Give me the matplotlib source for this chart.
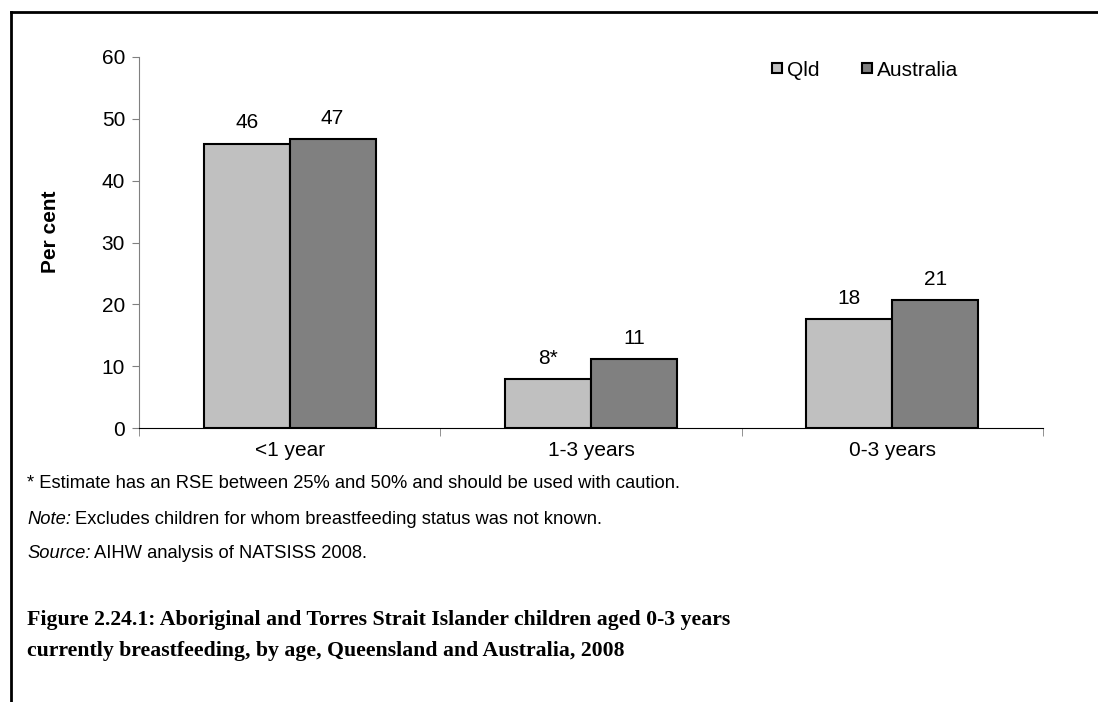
import matplotlib.pyplot as plt
from matplotlib.lines import Line2D
import numpy as np

# data
categories = ['<1 year', '1-3 years', '0-3 years']
qld = [46.0, 7.9, 17.6]
australia = [46.8, 11.2, 20.7]
qld_labels = ['46', '8*', '18']
aus_labels = ['47', '11', '21']

plt.rcParams['font.family'] = ['Liberation Sans', 'DejaVu Sans']

W, H = 1098, 702
fig = plt.figure(figsize=(W / 100, H / 100), dpi=100)
ax = fig.add_axes([139 / W, 1 - 428 / H, (1043 - 139) / W, (428 - 57) / H])

x = np.arange(len(categories))
bw = 0.285
b1 = ax.bar(x - bw / 2, qld, bw, color='#c0c0c0', edgecolor='black', linewidth=1.5)
b2 = ax.bar(x + bw / 2, australia, bw, color='#808080', edgecolor='black', linewidth=1.5)

for bars, labs in ((b1, qld_labels), (b2, aus_labels)):
    for b, lab in zip(bars, labs):
        ax.annotate(lab, (b.get_x() + b.get_width() / 2, b.get_height()),
                    xytext=(0, 8), textcoords='offset points',
                    ha='center', va='bottom', fontsize=15)

ax.set_xlim(-0.5, 2.5)
ax.set_ylim(0, 60)
ax.set_yticks(range(0, 61, 10))
ax.set_xticks(x)
ax.set_xticklabels(categories, fontsize=15)
ax.set_xticks([-0.5, 0.5, 1.5, 2.5], minor=True)
ax.tick_params(axis='x', which='major', length=0, pad=9)
ax.tick_params(axis='x', which='minor', length=6, color='#808080', direction='out')
ax.tick_params(axis='y', labelsize=15, length=5, color='#808080', pad=5)
for s in ('top', 'right'):
    ax.spines[s].set_visible(False)
ax.spines['left'].set_color('#808080')
ax.spines['bottom'].set_color('black')
ax.set_ylabel('Per cent', fontsize=15, fontweight='bold', va='center')
ax.yaxis.set_label_coords((51 - 139) / 904, (428 - 232) / 371)

handles = [Line2D([], [], marker='s', linestyle='none', markersize=7.5,
                  markerfacecolor=c, markeredgecolor='black', markeredgewidth=1.5)
           for c in ('#c0c0c0', '#808080')]
fig.legend(handles, ['Qld', 'Australia'], loc='center left',
           bbox_to_anchor=(761 / W, 1 - 70 / H), ncol=2, frameon=False, borderpad=0,
           fontsize=15, handletextpad=0.2, columnspacing=2.0, handlelength=0.55)

# notes under the chart: italic heading followed by plain text
fs_note = 13.2
x0 = 27
fig.text(x0 / W, 1 - 484 / H,
         '* Estimate has an RSE between 25% and 50% and should be used with caution.',
         fontsize=fs_note, va='center')

def note(y, head, body):
    h = fig.text(x0 / W, 1 - y / H, head, fontsize=fs_note, va='center', style='italic')
    bb = h.get_window_extent(renderer=fig.canvas.get_renderer())
    fig.text((bb.x1 + 4) / W, 1 - y / H, body, fontsize=fs_note, va='center')

note(519, 'Note:', 'Excludes children for whom breastfeeding status was not known.')
note(553, 'Source:', 'AIHW analysis of NATSISS 2008.')

fig.text(x0 / W, 1 - 620 / H,
         'Figure 2.24.1: Aboriginal and Torres Strait Islander children aged 0-3 years',
         fontsize=15.7, fontweight='bold', family='Liberation Serif', va='center')
fig.text(x0 / W, 1 - 651 / H,
         'currently breastfeeding, by age, Queensland and Australia, 2008',
         fontsize=15.7, fontweight='bold', family='Liberation Serif', va='center')

# outer frame
fig.add_artist(Line2D([10.5 / W, 10.5 / W], [0, 1 - 12 / H], color='black', linewidth=2))
fig.add_artist(Line2D([10.5 / W, 1], [1 - 12 / H, 1 - 12 / H], color='black', linewidth=2))

fig.savefig('out.png', dpi=100)
